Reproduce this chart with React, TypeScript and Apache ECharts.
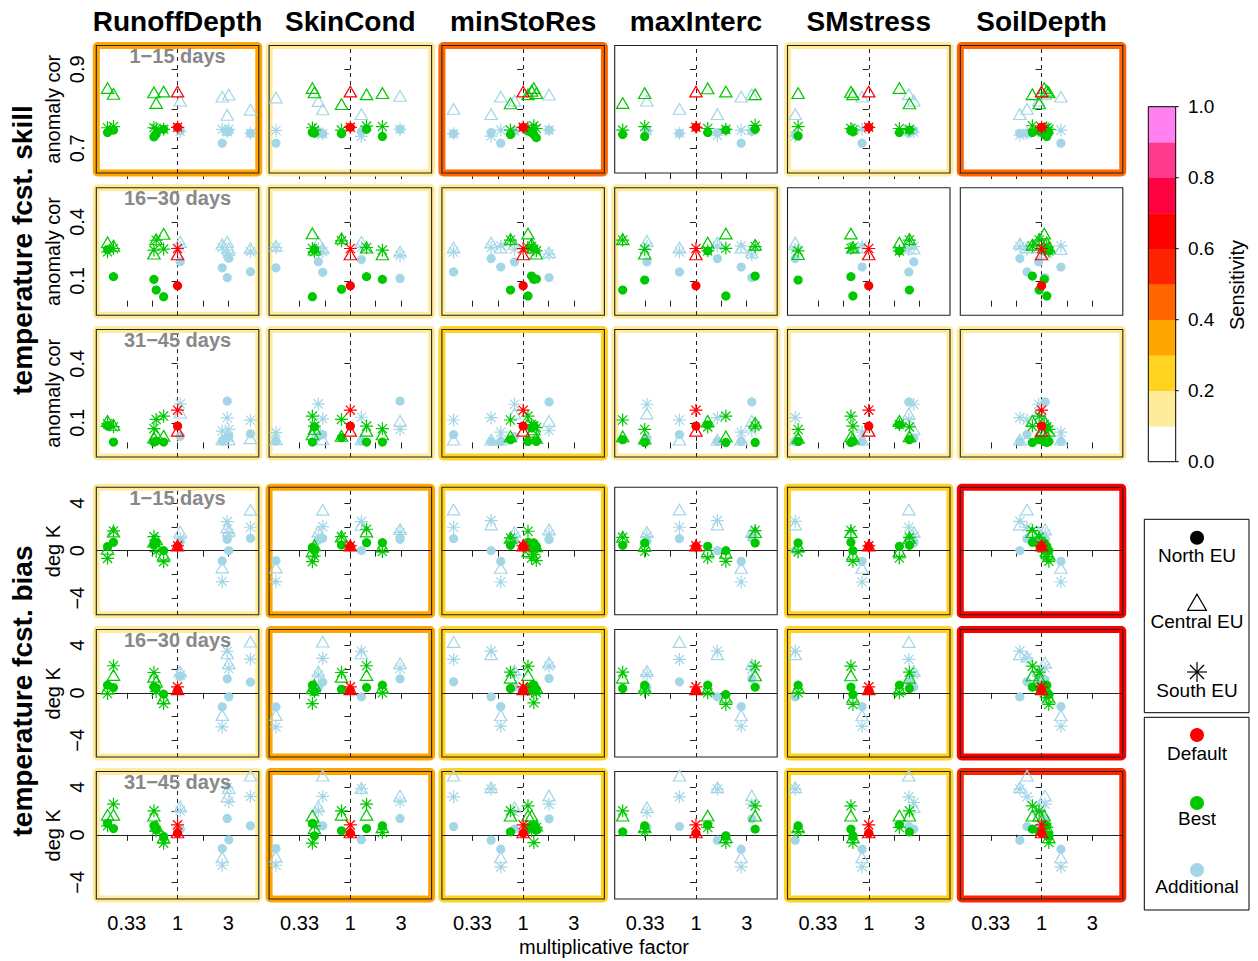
import React, { useEffect, useRef } from "react";
import * as echarts from "echarts";

// ---- labels -------------------------------------------------------------
const PARAMETERS = ["RunoffDepth", "SkinCond", "minStoRes", "maxInterc", "SMstress", "SoilDepth"];
const LEADS = ["1−15 days", "16−30 days", "31−45 days"];
const SECTION_TITLES = ["temperature fcst. skill", "temperature fcst. bias"];
const ROW_UNITS = ["anomaly cor", "anomaly cor", "anomaly cor", "deg K", "deg K", "deg K"];
const REGIONS = ["North EU", "Central EU", "South EU"];
const ROLES = ["Default", "Best", "Additional"];
const X_TITLE = "multiplicative factor";
const SENS_TITLE = "Sensitivity";

// ---- sensitivity of each panel (rows: 3 skill leads, 3 bias leads) ------
const SENSITIVITY = [
  [0.35, 0.15, 0.45, 0.05, 0.15, 0.45],
  [0.15, 0.15, 0.15, 0.15, 0.05, 0.05],
  [0.15, 0.15, 0.25, 0.15, 0.15, 0.15],
  [0.15, 0.35, 0.25, 0.05, 0.25, 0.65],
  [0.15, 0.35, 0.25, 0.05, 0.25, 0.65],
  [0.15, 0.35, 0.25, 0.05, 0.25, 0.55],
];
const SENS_COLORS = [
  "#FFFFFF", "#FFEC9A", "#FFD320", "#FFA500", "#FF6600",
  "#FF2400", "#FF0000", "#FF0040", "#FF3A8C", "#FF80EE",
];
const SENS_TICKS = [0, 0.2, 0.4, 0.6, 0.8, 1.0];

// ---- axis ticks --------------------------------------------------------
const FACTOR_TICKS = [1 / 3, 1 / Math.sqrt(3), 1, Math.sqrt(3), 3];
const FACTOR_LABEL_VALUES = [1 / 3, 1, 3];
const FACTOR_LABELS = ["0.33", "1", "3"];
const SKILL_SHORT_TICKS = [0.7, 0.8, 0.9];
const SKILL_SHORT_LABELS = [0.7, 0.9];
const SKILL_LONG_TICKS = [0.1, 0.4];
const BIAS_TICKS = [-4, -2, 0, 2, 4];
const BIAS_LABELS = [-4, 0, 4];

// ---- default run (factor 1), per row -----------------------------------
const defaultNorth = [0.753, 0.076, 0.083, 0.34, 0.2, 0.14];
const defaultCentral = [0.839, 0.226, 0.05, 0.28, 0.15, 0.06];
const defaultSouth = [0.753, 0.265, 0.164, 0.4, 0.5, 0.84];

// ---- RunoffDepth --------------------------------------------------------
const runoffDepthFactor = [0.22, 0.25, 0.6, 0.63, 0.74, 1.06, 2.63, 2.93, 3.03, 4.84];
const runoffDepthRole = ["B", "B", "B", "B", "B", "A", "A", "A", "A", "A"];
const runoffDepthNorth = [
  [0.74, 0.746, 0.729, 0.736, 0.748, 0.745, 0.713, 0.742, 0.743, 0.738],
  [0.26, 0.122, 0.108, 0.054, 0.02, 0.198, 0.167, 0.117, 0.215, 0.147],
  [0.085, 0.002, 0.002, 0.007, 0.002, 0.032, 0.007, 0.21, 0.03, 0.044],
  [0.34, 0.7, 0.48, 0.67, 0.0, 0.76, -0.87, 0.95, 0.0, 1.04],
  [0.65, 0.45, 0.5, 0.4, -0.11, 1.4, -1.18, 1.18, -0.34, 0.9],
  [0.96, 0.53, 0.76, 0.42, -0.14, 0.48, -1.15, 1.38, -0.42, 0.76],
];
const runoffDepthCentral = [
  [0.848, 0.833, 0.837, 0.81, 0.839, 0.816, 0.826, 0.78, 0.831, 0.793],
  [0.287, 0.27, 0.23, 0.302, 0.33, 0.29, 0.277, 0.29, 0.257, 0.257],
  [0.1, 0.08, 0.016, 0.032, 0.024, 0.142, 0.007, 0.024, 0.007, 0.012],
  [0.0, 1.46, 0.62, 0.8, -0.5, 1.46, -1.57, 1.8, 1.52, 3.29],
  [0.2, 1.35, 1.2, 0.79, -0.62, 1.63, -2.02, 3.17, 2.33, 4.16],
  [1.54, 1.54, 1.46, 0.6, -0.37, 2.22, -2.05, 3.06, 3.79, 4.83],
];
const runoffDepthSouth = [
  [0.752, 0.755, 0.752, 0.75, 0.748, 0.742, 0.748, 0.742, 0.748, 0.738],
  [0.248, 0.265, 0.257, 0.307, 0.262, 0.27, 0.27, 0.24, 0.23, 0.248],
  [0.095, 0.08, 0.07, 0.117, 0.134, 0.196, 0.058, 0.125, 0.066, 0.113],
  [-0.65, 1.66, 1.18, -0.08, -0.93, 1.04, -2.6, 2.44, 1.46, 1.97],
  [-0.06, 2.28, 1.71, 0.1, -0.9, 1.49, -2.87, 3.5, 2.05, 2.84],
  [0.76, 2.58, 2.02, 0.34, -0.7, 2.02, -2.56, 3.99, 2.78, 3.23],
];

// ---- SkinCond -----------------------------------------------------------
const skinCondFactor = [0.2, 0.44, 0.46, 0.5, 0.55, 0.826, 1.27, 1.42, 2.0, 2.93];
const skinCondRole = ["A", "B", "B", "A", "A", "B", "A", "B", "B", "A"];
const skinCondNorth = [
  [0.713, 0.74, 0.738, 0.742, 0.737, 0.737, 0.742, 0.748, 0.73, 0.748],
  [0.167, 0.02, 0.26, 0.198, 0.144, 0.058, 0.209, 0.122, 0.108, 0.113],
  [0.007, 0.002, 0.08, 0.032, 0.04, 0.024, 0.007, 0.002, 0.002, 0.21],
  [-0.84, 0.28, 0.05, 0.9, 1.04, 0.48, 0.0, 0.67, 0.67, 0.95],
  [-1.18, 0.65, 0.1, 0.5, 0.9, 0.3, -0.34, 0.45, 0.65, 1.18],
  [-1.15, 0.96, -0.08, 0.76, 0.76, 0.34, -0.42, 0.53, 0.76, 1.38],
];
const skinCondCentral = [
  [0.824, 0.848, 0.837, 0.815, 0.794, 0.807, 0.782, 0.832, 0.835, 0.828],
  [0.27, 0.333, 0.25, 0.29, 0.257, 0.307, 0.29, 0.26, 0.226, 0.24],
  [0.007, 0.032, 0.06, 0.05, 0.007, 0.024, 0.007, 0.05, 0.032, 0.1],
  [-1.57, -0.22, 0.3, 1.46, 3.29, 1.04, 2.02, 1.46, 0.2, 1.66],
  [-2.02, 0.22, 0.5, 1.63, 4.16, 1.2, 3.17, 1.35, 0.25, 2.33],
  [-2.0, 1.46, 0.4, 2.22, 4.83, 1.54, 3.79, 1.54, 0.48, 3.15],
];
const skinCondSouth = [
  [0.745, 0.752, 0.746, 0.738, 0.737, 0.746, 0.73, 0.756, 0.755, 0.748],
  [0.27, 0.265, 0.248, 0.265, 0.248, 0.304, 0.27, 0.27, 0.257, 0.23],
  [0.05, 0.134, 0.083, 0.196, 0.12, 0.117, 0.128, 0.083, 0.07, 0.066],
  [-2.6, -0.93, -0.45, 1.2, 2.02, 1.18, 2.44, 1.8, -0.08, 1.52],
  [-2.87, -0.9, 0.1, 1.49, 2.9, 1.71, 3.5, 2.28, 0.0, 2.05],
  [-2.56, -0.7, 0.76, 2.02, 3.23, 2.02, 3.9, 2.58, 0.2, 2.78],
];

// ---- minStoRes ----------------------------------------------------------
const minStoResFactor = [0.222, 0.5, 0.616, 0.76, 0.83, 1.11, 1.2, 1.26, 1.33, 1.75];
const minStoResRole = ["A", "A", "A", "B", "A", "B", "B", "B", "B", "A"];
const minStoResNorth = [
  [0.737, 0.74, 0.713, 0.735, 0.744, 0.744, 0.74, 0.735, 0.727, 0.746],
  [0.146, 0.214, 0.171, 0.054, 0.197, 0.024, 0.125, 0.108, 0.11, 0.117],
  [0.04, 0.005, 0.005, 0.014, 0.03, 0.005, 0.074, 0.083, 0.005, 0.206],
  [1.01, 0.0, -0.9, 0.45, 0.79, 0.7, 0.22, 0.65, 0.37, 0.93],
  [0.93, -0.34, -1.15, 0.37, 0.48, 0.42, 0.56, 0.65, 0.3, 1.21],
  [0.7, -0.45, -1.21, 0.25, 0.48, 0.62, 0.76, 0.76, 0.4, 1.35],
];
const minStoResCentral = [
  [0.795, 0.782, 0.826, 0.809, 0.816, 0.832, 0.841, 0.848, 0.835, 0.831],
  [0.261, 0.286, 0.261, 0.303, 0.278, 0.332, 0.278, 0.26, 0.23, 0.236],
  [0.005, 0.005, 0.005, 0.022, 0.138, 0.086, 0.045, 0.057, 0.014, 0.1],
  [3.31, 2.05, -1.6, 0.93, 1.4, -0.2, 0.1, 0.37, 0.22, 1.63],
  [4.13, 3.09, -2.05, 1.12, 1.74, 1.35, 0.42, 0.14, 0.3, 2.39],
  [4.83, 3.85, -2.05, 1.46, 2.16, 1.46, 1.46, 0.48, 0.62, 3.15],
];
const minStoResSouth = [
  [0.737, 0.731, 0.746, 0.746, 0.744, 0.752, 0.748, 0.757, 0.75, 0.746],
  [0.247, 0.27, 0.278, 0.308, 0.261, 0.27, 0.275, 0.261, 0.253, 0.236],
  [0.114, 0.126, 0.052, 0.114, 0.194, 0.134, 0.091, 0.083, 0.075, 0.062],
  [1.97, 2.53, -2.64, 1.07, 1.2, 1.63, -0.62, -0.34, -0.84, 1.4],
  [2.81, 3.51, -2.81, 1.74, 1.54, 2.25, 0.14, -0.84, 0.0, 2.25],
  [3.2, 3.85, -2.7, 2.02, 1.88, 2.44, 0.34, -0.65, 0.62, 2.58],
];

// ---- maxInterc ----------------------------------------------------------
const maxIntercFactor = [0.205, 0.33, 0.346, 0.7, 1.29, 1.59, 1.91, 2.66, 3.35, 3.6];
const maxIntercRole = ["B", "B", "A", "A", "B", "A", "B", "A", "A", "B"];
const maxIntercNorth = [
  [0.735, 0.73, 0.744, 0.738, 0.74, 0.74, 0.746, 0.713, 0.743, 0.748],
  [0.054, 0.105, 0.197, 0.146, 0.253, 0.214, 0.024, 0.171, 0.117, 0.125],
  [0.014, 0.0, 0.022, 0.04, 0.09, 0.005, 0.0, 0.005, 0.206, 0.0],
  [0.45, 0.65, 0.79, 1.01, 0.37, 0.0, 0.0, -0.9, 1.07, 0.65],
  [0.37, 0.65, 0.48, 0.93, 0.65, -0.34, -0.14, -1.15, 1.21, 0.48],
  [0.25, 0.76, 0.62, 0.7, 0.84, -0.45, -0.08, -1.21, 1.35, 0.48],
];
const maxIntercCentral = [
  [0.81, 0.835, 0.816, 0.795, 0.847, 0.782, 0.839, 0.826, 0.832, 0.832],
  [0.303, 0.23, 0.295, 0.261, 0.286, 0.286, 0.332, 0.261, 0.236, 0.275],
  [0.022, 0.011, 0.138, 0.005, 0.1, 0.005, 0.022, 0.005, 0.1, 0.09],
  [1.01, 0.28, 1.4, 3.31, -0.2, 2.05, -0.34, -1.6, 1.4, 1.4],
  [1.12, 0.28, 1.69, 4.13, 0.14, 3.09, -0.56, -2.05, 2.25, 1.32],
  [1.46, 0.48, 2.16, 4.83, 1.46, 3.85, -0.37, -2.05, 3.15, 1.46],
];
const maxIntercSouth = [
  [0.746, 0.755, 0.744, 0.738, 0.75, 0.733, 0.748, 0.746, 0.746, 0.758],
  [0.308, 0.261, 0.275, 0.247, 0.253, 0.278, 0.266, 0.278, 0.232, 0.275],
  [0.114, 0.066, 0.194, 0.114, 0.079, 0.126, 0.134, 0.052, 0.062, 0.083],
  [1.12, -0.06, 1.2, 1.97, -0.62, 2.53, -0.9, -2.64, 1.2, 1.69],
  [1.74, 0.14, 1.54, 2.81, 0.0, 3.51, -0.98, -2.81, 1.97, 2.25],
  [2.02, 0.28, 1.88, 3.2, 0.62, 3.85, -0.65, -2.7, 2.58, 2.44],
];

// ---- SMstress -----------------------------------------------------------
const smStressFactor = [0.204, 0.217, 0.68, 0.71, 0.866, 1.94, 2.38, 2.41, 2.65];
const smStressRole = ["A", "B", "B", "B", "A", "B", "A", "B", "A"];
const smStressNorth = [
  [0.735, 0.731, 0.746, 0.742, 0.713, 0.74, 0.738, 0.746, 0.745],
  [0.214, 0.105, 0.122, 0.024, 0.171, 0.253, 0.146, 0.054, 0.197],
  [0.005, 0.005, 0.0, 0.005, 0.005, 0.09, 0.206, 0.014, 0.023],
  [0.0, 0.65, 0.7, 0.0, -0.9, 0.37, 1.01, 0.45, 0.65],
  [-0.34, 0.65, 0.48, -0.14, -1.15, 0.65, 0.93, 0.37, 0.48],
  [-0.45, 0.76, 0.48, -0.08, -1.21, 0.84, 0.7, 0.25, 0.48],
];
const smStressCentral = [
  [0.782, 0.835, 0.838, 0.832, 0.826, 0.848, 0.832, 0.809, 0.816],
  [0.286, 0.227, 0.332, 0.261, 0.261, 0.286, 0.281, 0.303, 0.256],
  [0.005, 0.014, 0.022, 0.01, 0.005, 0.1, 0.138, 0.022, 0.057],
  [2.05, 0.22, 1.4, -0.48, -1.6, -0.2, 3.31, 0.93, 1.4],
  [3.09, 0.28, 1.32, -0.56, -2.05, 0.14, 4.13, 1.12, 1.69],
  [3.85, 0.48, 1.46, -0.37, -2.05, 1.46, 4.83, 1.46, 2.16],
];
const smStressSouth = [
  [0.731, 0.755, 0.75, 0.746, 0.748, 0.75, 0.744, 0.748, 0.741],
  [0.261, 0.253, 0.266, 0.27, 0.278, 0.253, 0.261, 0.308, 0.275],
  [0.126, 0.066, 0.134, 0.083, 0.052, 0.091, 0.117, 0.079, 0.194],
  [2.47, -0.11, 1.69, -0.9, -2.64, -0.62, 1.97, 1.12, 1.2],
  [3.51, 0.0, 2.25, -0.98, -2.81, 0.0, 2.81, 1.74, 1.54],
  [3.85, 0.28, 2.44, -0.65, -2.7, 0.62, 3.2, 2.02, 2.72],
];

// ---- SoilDepth ----------------------------------------------------------
const soilDepthFactor = [0.625, 0.73, 0.82, 0.94, 0.95, 1.06, 1.08, 1.12, 1.17, 1.52];
const soilDepthRole = ["A", "A", "B", "A", "B", "B", "A", "B", "B", "A"];
const soilDepthNorth = [
  [0.738, 0.738, 0.74, 0.744, 0.744, 0.735, 0.74, 0.73, 0.74, 0.713],
  [0.214, 0.146, 0.125, 0.197, 0.054, 0.108, 0.117, 0.024, 0.253, 0.171],
  [0.005, 0.04, 0.0, 0.022, 0.014, 0.005, 0.206, 0.0, 0.005, 0.005],
  [0.0, 1.01, 0.7, 0.79, 0.45, 0.65, 0.93, 0.37, 0.0, -0.9],
  [-0.34, 0.93, 0.48, 1.21, 0.37, 0.65, 1.1, 0.65, -0.14, -1.15],
  [-0.45, 0.7, 0.48, 0.62, 0.25, 0.84, 1.35, 0.76, -0.08, -1.21],
];
const soilDepthCentral = [
  [0.782, 0.795, 0.832, 0.816, 0.809, 0.848, 0.832, 0.841, 0.837, 0.826],
  [0.281, 0.261, 0.275, 0.261, 0.303, 0.332, 0.236, 0.286, 0.261, 0.253],
  [0.005, 0.005, 0.1, 0.138, 0.022, 0.1, 0.1, 0.022, 0.05, 0.005],
  [2.05, 3.31, 1.4, 1.4, 0.93, 0.22, 1.63, -0.2, -0.48, -1.6],
  [3.09, 2.9, 1.32, 1.69, 1.12, 0.28, 2.39, 0.14, -0.56, -2.05],
  [3.85, 4.83, 1.46, 2.16, 1.46, 1.46, 3.15, 0.48, -0.37, -2.05],
];
const soilDepthSouth = [
  [0.733, 0.738, 0.757, 0.744, 0.746, 0.75, 0.748, 0.752, 0.748, 0.746],
  [0.275, 0.261, 0.278, 0.27, 0.308, 0.261, 0.245, 0.275, 0.253, 0.278],
  [0.126, 0.114, 0.083, 0.194, 0.134, 0.091, 0.062, 0.079, 0.066, 0.052],
  [2.47, 1.97, 1.69, 1.2, 1.12, -0.11, 1.4, -0.62, -0.9, -2.64],
  [3.51, 2.95, 2.25, 1.54, 1.74, 0.0, 2.1, -0.42, -0.98, -2.81],
  [3.85, 3.2, 2.44, 1.88, 2.02, 0.28, 2.58, 0.62, -0.65, -2.7],
];

const PANEL_SETS = [
  { factor: runoffDepthFactor, role: runoffDepthRole, values: [runoffDepthNorth, runoffDepthCentral, runoffDepthSouth] },
  { factor: skinCondFactor, role: skinCondRole, values: [skinCondNorth, skinCondCentral, skinCondSouth] },
  { factor: minStoResFactor, role: minStoResRole, values: [minStoResNorth, minStoResCentral, minStoResSouth] },
  { factor: maxIntercFactor, role: maxIntercRole, values: [maxIntercNorth, maxIntercCentral, maxIntercSouth] },
  { factor: smStressFactor, role: smStressRole, values: [smStressNorth, smStressCentral, smStressSouth] },
  { factor: soilDepthFactor, role: soilDepthRole, values: [soilDepthNorth, soilDepthCentral, soilDepthSouth] },
];
const DEFAULT_VALUES = [defaultNorth, defaultCentral, defaultSouth];

// ---- layout & style -----------------------------------------------------
const FONT = '"Liberation Sans", Arial, Helvetica, sans-serif';
const COL_LEFT0 = 96.3;
const COL_PITCH = 172.8;
const BOX_W = 162.5;
const ROW_TOPS = [45.5, 187.7, 329.5, 487.3, 629.5, 771.5];
const BOX_H = 127.5;
const X_RANGE = [-1.6, 1.6];
const Y_RANGES = [
  [0.6375, 0.96],
  [-0.074, 0.574],
  [-0.074, 0.574],
  [-5.4, 5.33],
  [-5.4, 5.33],
  [-5.4, 5.33],
];
const COLOR_ADDITIONAL = "#A3D6E6";
const COLOR_BEST = "#00C800";
const COLOR_DEFAULT = "#FF0000";
const ROLE_COLORS = [COLOR_DEFAULT, COLOR_BEST, COLOR_ADDITIONAL];
const ASTERISK = "path://M-1.414 0L1.414 0M0 -1.414L0 1.414M-1 -1L1 1M-1 1L1 -1";
const PT_R = 4.6;

const log3 = (v: number) => Math.log(v) / Math.log(3);
const sensColor = (s: number) => SENS_COLORS[Math.min(9, Math.floor(s * 10))];
const fmtNum = (v: number) => (v < 0 ? "−" + String(Math.abs(v)) : String(v));

function marker(f: number, v: number, region: number, color: string) {
  const value = [log3(f), v];
  if (region === 0) {
    return { value, symbol: "circle", symbolSize: PT_R * 2, itemStyle: { color, opacity: 1 } };
  }
  if (region === 1) {
    return {
      value,
      symbol: "triangle",
      symbolSize: [PT_R * 2.69, PT_R * 2.33],
      symbolOffset: [0, -PT_R * 0.39],
      itemStyle: { color: "rgba(0,0,0,0)", borderColor: color, borderWidth: 1.2, opacity: 1 },
    };
  }
  return {
    value,
    symbol: ASTERISK,
    symbolSize: PT_R * 2.83,
    itemStyle: { color: "rgba(0,0,0,0)", borderColor: color, borderWidth: 1.2, opacity: 1 },
  };
}

function text(x: number, y: number, str: string, size: number, opts: any = {}) {
  return {
    type: "text",
    x,
    y,
    rotation: opts.rotation || 0,
    z: 20,
    silent: true,
    style: {
      text: str,
      fill: opts.fill || "#000",
      fontSize: size,
      fontWeight: opts.bold ? "bold" : "normal",
      fontFamily: FONT,
      align: opts.align || "center",
      verticalAlign: "middle",
    },
  };
}

function buildOption() {
  const grids: any[] = [];
  const xAxes: any[] = [];
  const yAxes: any[] = [];
  const series: any[] = [];
  const graphics: any[] = [];

  for (let r = 0; r < 6; r++) {
    for (let c = 0; c < 6; c++) {
      const idx = r * 6 + c;
      const left = COL_LEFT0 + c * COL_PITCH;
      const top = ROW_TOPS[r];
      grids.push({ left, top, width: BOX_W, height: BOX_H, show: false, containLabel: false });

      xAxes.push({
        gridIndex: idx,
        type: "value",
        min: X_RANGE[0],
        max: X_RANGE[1],
        axisLine: { show: false },
        splitLine: { show: false },
        axisTick: {
          show: true,
          length: 6,
          customValues: FACTOR_TICKS.map(log3),
          lineStyle: { color: "#222", width: 1 },
        },
        axisLabel: {
          show: r === 5,
          customValues: FACTOR_LABEL_VALUES.map(log3),
          formatter: (v: number) => {
            const i = FACTOR_LABEL_VALUES.findIndex((f) => Math.abs(log3(f) - v) < 1e-6);
            return i >= 0 ? FACTOR_LABELS[i] : "";
          },
          fontSize: 20,
          fontFamily: FONT,
          color: "#000",
          margin: 14,
        },
      });

      const yTicks = r === 0 ? SKILL_SHORT_TICKS : r < 3 ? SKILL_LONG_TICKS : BIAS_TICKS;
      const yLabels = r === 0 ? SKILL_SHORT_LABELS : r < 3 ? SKILL_LONG_TICKS : BIAS_LABELS;
      yAxes.push({
        gridIndex: idx,
        type: "value",
        min: Y_RANGES[r][0],
        max: Y_RANGES[r][1],
        axisLine: { show: false },
        splitLine: { show: false },
        axisTick: { show: true, length: 6, customValues: yTicks, lineStyle: { color: "#222", width: 1 } },
        axisLabel: {
          show: c === 0,
          customValues: yLabels,
          rotate: 90,
          formatter: (v: number) => fmtNum(v),
          fontSize: 20,
          fontFamily: FONT,
          color: "#000",
          margin: 9,
        },
      });

      // markers: additional runs, then best runs, then the default run
      const set = PANEL_SETS[c];
      const items: any[] = [];
      for (const want of ["A", "B"]) {
        set.factor.forEach((f, j) => {
          if (set.role[j] !== want) return;
          const color = want === "A" ? COLOR_ADDITIONAL : COLOR_BEST;
          for (let g = 0; g < 3; g++) items.push(marker(f, set.values[g][r][j], g, color));
        });
      }
      for (let g = 0; g < 3; g++) items.push(marker(1, DEFAULT_VALUES[g][r], g, COLOR_DEFAULT));

      const lines: any[] = [{ xAxis: 0, lineStyle: { type: [4, 4], color: "#222", width: 1 } }];
      if (r >= 3) lines.push({ yAxis: 0, lineStyle: { type: "solid", color: "#222", width: 1 } });

      series.push({
        type: "scatter",
        xAxisIndex: idx,
        yAxisIndex: idx,
        data: items,
        silent: true,
        z: 3,
        itemStyle: { opacity: 1 },
        emphasis: { disabled: true },
        markLine: {
          silent: true,
          z: 1,
          symbol: ["none", "none"],
          label: { show: false },
          data: lines,
        },
      });

      // sensitivity frame and panel box
      const s = SENSITIVITY[r][c];
      if (s >= 0.1) {
        graphics.push({
          type: "rect",
          z: 1,
          silent: true,
          shape: { x: left, y: top, width: BOX_W, height: BOX_H, r: 1.5 },
          style: { fill: "none", stroke: sensColor(s), lineWidth: 7, lineJoin: "round" },
        });
      }
      graphics.push({
        type: "rect",
        z: 2,
        silent: true,
        shape: { x: left, y: top, width: BOX_W, height: BOX_H },
        style: { fill: "none", stroke: "#222", lineWidth: 1.1 },
      });

      if (c === 0) {
        graphics.push(text(left + BOX_W / 2, top + 10.5, LEADS[r % 3], 20, { bold: true, fill: "#888888" }));
        graphics.push(text(53, top + BOX_H / 2, ROW_UNITS[r], 20, { rotation: Math.PI / 2 }));
      }
    }
  }

  // column titles
  PARAMETERS.forEach((p, c) => {
    graphics.push(text(COL_LEFT0 + c * COL_PITCH + BOX_W / 2, 21.5, p, 28, { bold: true }));
  });
  // section titles
  graphics.push(text(22, 250, SECTION_TITLES[0], 28, { bold: true, rotation: Math.PI / 2 }));
  graphics.push(text(22, 691, SECTION_TITLES[1], 28, { bold: true, rotation: Math.PI / 2 }));
  // x title
  graphics.push(text(604, 947, X_TITLE, 20));

  // colour bar
  const cbX = 1148.3;
  const cbW = 27.4;
  const cbTop = 106.7;
  const cbBottom = 461.7;
  const cbH = cbBottom - cbTop;
  SENS_COLORS.forEach((col, i) => {
    graphics.push({
      type: "rect",
      z: 2,
      silent: true,
      shape: { x: cbX, y: cbBottom - ((i + 1) * cbH) / 10, width: cbW, height: cbH / 10 + 0.3 },
      style: { fill: col, stroke: "none" },
    });
  });
  graphics.push({
    type: "rect",
    z: 3,
    silent: true,
    shape: { x: cbX, y: cbTop, width: cbW, height: cbH },
    style: { fill: "none", stroke: "#000", lineWidth: 1 },
  });
  SENS_TICKS.forEach((v) => {
    const y = cbBottom - v * cbH;
    graphics.push({
      type: "line",
      z: 3,
      silent: true,
      shape: { x1: cbX + cbW, y1: y, x2: cbX + cbW + 3, y2: y },
      style: { stroke: "#000", lineWidth: 1 },
    });
    graphics.push(text(1188, y, v.toFixed(1), 19, { align: "left" }));
  });
  graphics.push(text(1237, 285, SENS_TITLE, 20, { rotation: Math.PI / 2 }));

  // legend boxes
  const lgX = 1144.3;
  const lgW = 104.7;
  const lgCx = 1197;
  graphics.push({
    type: "rect", z: 2, silent: true,
    shape: { x: lgX, y: 519.3, width: lgW, height: 193.4 },
    style: { fill: "none", stroke: "#000", lineWidth: 1 },
  });
  graphics.push({
    type: "rect", z: 2, silent: true,
    shape: { x: lgX, y: 717.3, width: lgW, height: 192.7 },
    style: { fill: "none", stroke: "#000", lineWidth: 1 },
  });
  const LR = 7;
  // North: filled circle
  graphics.push({ type: "circle", z: 3, silent: true, shape: { cx: lgCx, cy: 537.7, r: LR }, style: { fill: "#000" } });
  graphics.push(text(lgCx, 555, REGIONS[0], 19));
  // Central: open triangle
  const ty = 605;
  graphics.push({
    type: "polygon", z: 3, silent: true,
    shape: {
      points: [
        [lgCx, ty - 1.555 * LR],
        [lgCx - 1.347 * LR, ty + 0.778 * LR],
        [lgCx + 1.347 * LR, ty + 0.778 * LR],
      ],
    },
    style: { fill: "none", stroke: "#000", lineWidth: 1.2 },
  });
  graphics.push(text(lgCx, 621.7, REGIONS[1], 19));
  // South: asterisk
  const ay = 672;
  const arm = 1.414 * LR;
  const segs = [
    [-arm, 0, arm, 0],
    [0, -arm, 0, arm],
    [-LR, -LR, LR, LR],
    [-LR, LR, LR, -LR],
  ];
  segs.forEach((sg) => {
    graphics.push({
      type: "line", z: 3, silent: true,
      shape: { x1: lgCx + sg[0], y1: ay + sg[1], x2: lgCx + sg[2], y2: ay + sg[3] },
      style: { stroke: "#000", lineWidth: 1.2 },
    });
  });
  graphics.push(text(lgCx, 690, REGIONS[2], 19));
  // roles
  const roleY = [735, 803, 870];
  const roleTextY = [753, 818.5, 886.7];
  ROLES.forEach((name, i) => {
    graphics.push({
      type: "circle", z: 3, silent: true,
      shape: { cx: lgCx, cy: roleY[i], r: LR },
      style: { fill: ROLE_COLORS[i] },
    });
    graphics.push(text(lgCx, roleTextY[i], name, 19));
  });

  return {
    animation: false,
    backgroundColor: "#ffffff",
    textStyle: { fontFamily: FONT },
    grid: grids,
    xAxis: xAxes,
    yAxis: yAxes,
    series,
    graphic: { elements: graphics },
  };
}

export default function App() {
  const ref = useRef<HTMLDivElement>(null);
  useEffect(() => {
    if (!ref.current) return;
    const chart = echarts.init(ref.current, null, { renderer: "svg" });
    chart.setOption(buildOption() as any);
    return () => chart.dispose();
  }, []);
  return (
    <div
      ref={ref}
      style={{ position: "absolute", left: 0, top: 0, width: 1258, height: 961, background: "#fff" }}
    />
  );
}
